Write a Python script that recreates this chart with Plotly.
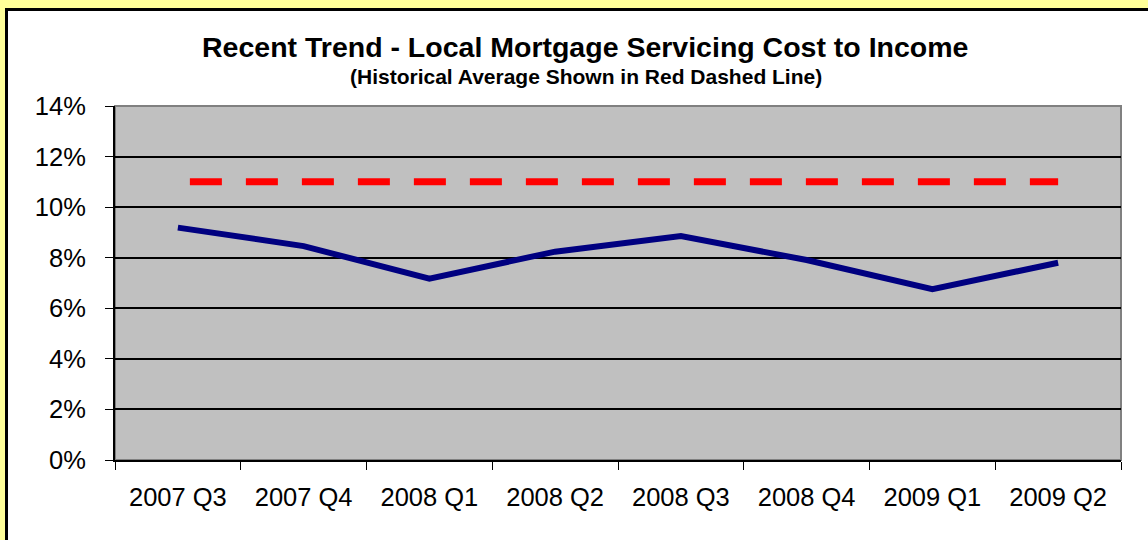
import plotly.graph_objects as go

quarters = ["2007 Q3", "2007 Q4", "2008 Q1", "2008 Q2", "2008 Q3", "2008 Q4", "2009 Q1", "2009 Q2"]
cost_to_income = [0.0919, 0.0846, 0.0717, 0.0824, 0.0886, 0.0791, 0.0676, 0.0780]
historical_avg = [0.11, 0.11, 0.11, 0.11, 0.11, 0.11, 0.11, 0.11]
y_tickvals = [0, 0.02, 0.04, 0.06, 0.08, 0.10, 0.12, 0.14]

title_text = "Recent Trend - Local Mortgage Servicing Cost to Income"
subtitle_text = "(Historical Average Shown in Red Dashed Line)"

FONT = "Arial, 'Liberation Sans', sans-serif"

# plot area in pixels
L, R, T, B = 115, 1121, 106, 460
W, H = 1148, 540
pw, ph = R - L, B - T


def px_x(p):
    return (p - L) / pw


def px_y(p):
    return (B - p) / ph


dash = "0px,12px," + ",".join(["32px,24px"] * 18)

fig = go.Figure()
fig.add_trace(go.Scatter(
    x=quarters, y=historical_avg, mode="lines",
    line=dict(color="#FF0000", width=7, dash=dash),
    hoverinfo="skip", showlegend=False,
))
fig.add_trace(go.Scatter(
    x=quarters, y=cost_to_income, mode="lines",
    line=dict(color="#000080", width=6),
    showlegend=False,
))

YEL = "#FFFF99"
shapes = [
    # yellow margin strips (left and top)
    dict(type="rect", xref="paper", yref="paper",
         x0=px_x(-20), x1=px_x(6.5), y0=px_y(600), y1=px_y(-20),
         fillcolor=YEL, line=dict(width=0), layer="below"),
    dict(type="rect", xref="paper", yref="paper",
         x0=px_x(-20), x1=px_x(1200), y0=px_y(9.5), y1=px_y(-20),
         fillcolor=YEL, line=dict(width=0), layer="below"),
    # black border lines of the chart box
    dict(type="line", xref="paper", yref="paper",
         x0=px_x(6.5), x1=px_x(6.5), y0=px_y(8), y1=px_y(600),
         line=dict(color="black", width=3), layer="below"),
    dict(type="line", xref="paper", yref="paper",
         x0=px_x(5), x1=px_x(1200), y0=px_y(9.5), y1=px_y(9.5),
         line=dict(color="black", width=3), layer="below"),
    # gray plot area
    dict(type="rect", xref="paper", yref="paper",
         x0=0, x1=1, y0=0, y1=1,
         fillcolor="#C0C0C0", line=dict(color="#808080", width=2), layer="below"),
]

annotations = [
    dict(text=f"<b>{title_text}</b>",
         xref="paper", yref="paper", x=px_x(585), y=px_y(46.5),
         xanchor="center", yanchor="middle", showarrow=False, borderpad=0,
         font=dict(family=FONT, size=28.5, color="black")),
    dict(text=f"<b>{subtitle_text}</b>",
         xref="paper", yref="paper", x=px_x(586), y=px_y(76),
         xanchor="center", yanchor="middle", showarrow=False, borderpad=0,
         font=dict(family=FONT, size=21, color="black")),
]

fig.update_layout(
    width=W, height=H,
    margin=dict(l=L, r=W - R, t=T, b=H - B, pad=0),
    paper_bgcolor="white",
    plot_bgcolor="rgba(0,0,0,0)",
    shapes=shapes,
    annotations=annotations,
    font=dict(family=FONT, size=25, color="black"),
    xaxis=dict(
        type="category", tickson="boundaries",
        ticks="outside", ticklen=8, tickcolor="black", tickwidth=1,
        showline=True, linecolor="black", linewidth=2,
        showgrid=False, zeroline=False,
        tickfont=dict(family=FONT, size=25.5, color="black"),
        ticklabelstandoff=13,
        range=[-0.5, 7.5],
    ),
    yaxis=dict(
        range=[0, 0.14], tickvals=y_tickvals, tickformat=".0%",
        ticks="outside", ticklen=8, tickcolor="black", tickwidth=1,
        showline=True, linecolor="black", linewidth=2,
        showgrid=True, gridcolor="black", gridwidth=1.5,
        zeroline=False,
        tickfont=dict(family=FONT, size=25.5, color="black"),
        ticklabelstandoff=14,
    ),
)

fig.write_html("out.html")
